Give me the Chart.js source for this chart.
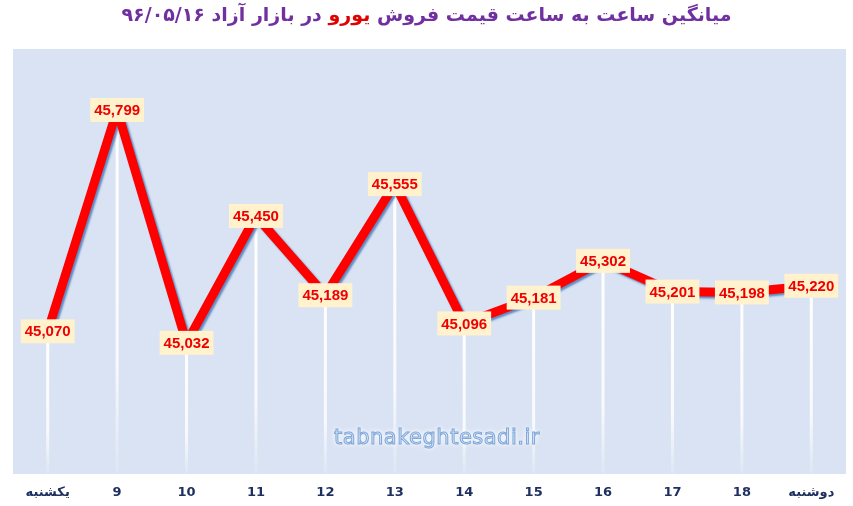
<!DOCTYPE html>
<html>
<head>
<meta charset="utf-8">
<script src="https://cdn.jsdelivr.net/npm/chart.js@4.4.0/dist/chart.umd.min.js"></script>
<style>
  body { margin: 0; background: #fff; }
  #wrap { position: relative; width: 853px; height: 506px; }
  #title {
    position: absolute; left: 0; top: 0; width: 853px; text-align: center;
    direction: rtl; font-family: "DejaVu Sans", sans-serif; font-weight: bold;
    font-size: 19px; color: #7030a0; line-height: 28px;
  }
  #title .red { color: #e00000; }
  #mark {
    position: absolute; left: 322px; top: 425px; width: 230px; text-align: center;
    font-family: "DejaVu Sans", sans-serif; font-size: 21px; color: #dce8f8;
    -webkit-text-stroke: 1px #7ea6d8; text-shadow: 0 0 4px #fff, 0 0 6px #fff;
    letter-spacing: 0.5px;
  }
</style>
</head>
<body>
<div id="wrap">
  <canvas id="myChart"></canvas>
  <div id="title">میانگین ساعت به ساعت قیمت فروش <span class="red">یورو</span> در بازار آزاد ۹۶/۰۵/۱۶</div>
  <div id="mark">tabnakeghtesadi.ir</div>
</div>
<script>
// ساعت ها
var hours = ['یکشنبه', '9', '10', '11', '12', '13', '14', '15', '16', '17', '18', 'دوشنبه'];
// قیمت یورو (تومان)
var prices = [45070, 45799, 45032, 45450, 45189, 45555, 45096, 45181, 45302, 45201, 45198, 45220];
var yMin = 44600;
var yMax = 46000;

// background of plot area
const plotBg = {
  id: 'plotBg',
  beforeDraw(chart) {
    const { ctx, chartArea: a } = chart;
    ctx.save();
    ctx.fillStyle = '#dae3f3';
    ctx.fillRect(a.left, a.top, a.right - a.left, a.bottom - a.top);
    ctx.restore();
  }
};

// white drop lines under the points
const dropLines = {
  id: 'dropLines',
  beforeDatasetsDraw(chart) {
    const { ctx, chartArea: a } = chart;
    const pts = chart.getDatasetMeta(0).data;
    ctx.save();
    ctx.lineWidth = 3;
    pts.forEach(p => {
      var g = ctx.createLinearGradient(0, p.y, 0, a.bottom);
      g.addColorStop(0, 'rgba(255,255,255,1)');
      g.addColorStop(0.7, 'rgba(255,255,255,0.8)');
      g.addColorStop(1, 'rgba(255,255,255,0.1)');
      ctx.strokeStyle = g;
      ctx.beginPath();
      ctx.moveTo(p.x, p.y);
      ctx.lineTo(p.x, a.bottom);
      ctx.stroke();
    });
    ctx.restore();
  }
};

// blue shadow under the red line
const lineShadow = {
  id: 'lineShadow',
  beforeDatasetDraw(chart) {
    const ctx = chart.ctx;
    ctx.save();
    ctx.shadowColor = 'rgba(79,129,189,0.9)';
    ctx.shadowOffsetX = 2;
    ctx.shadowOffsetY = 2;
    ctx.shadowBlur = 2;
  },
  afterDatasetDraw(chart) {
    chart.ctx.restore();
  }
};

// value boxes
const valueLabels = {
  id: 'valueLabels',
  afterDatasetsDraw(chart) {
    const ctx = chart.ctx;
    const pts = chart.getDatasetMeta(0).data;
    ctx.save();
    ctx.font = 'bold 15px "Liberation Sans", sans-serif';
    ctx.textAlign = 'center';
    ctx.textBaseline = 'middle';
    pts.forEach((p, i) => {
      var txt = prices[i].toLocaleString('en-US');
      var w = ctx.measureText(txt).width + 8;
      var h = 24;
      ctx.fillStyle = '#fff2cc';
      ctx.fillRect(p.x - w / 2, p.y - h / 2, w, h);
      ctx.fillStyle = '#ee0000';
      ctx.fillText(txt, p.x, p.y + 1);
    });
    ctx.restore();
  }
};

var canvas1 = document.getElementById('myChart');
var myChart = new Chart(canvas1, {
  type: 'line',
  data: {
    labels: hours,
    datasets: [{
      data: prices,
      borderColor: '#ff0000',
      borderWidth: 9,
      borderJoinStyle: 'round',
      tension: 0,
      pointRadius: 0,
      pointHoverRadius: 0,
      fill: false
    }]
  },
  options: {
    responsive: true,
    maintainAspectRatio: false,
    animation: false,
    layout: { padding: { top: 49, left: 13, right: 7, bottom: 4 } },
    plugins: {
      legend: { display: false },
      tooltip: { enabled: false }
    },
    scales: {
      x: {
        offset: true,
        grid: { display: false, drawTicks: false },
        border: { display: false },
        afterFit: s => { s.height = 28; },
        ticks: {
          padding: 11,
          color: '#1f3060',
          font: { family: '"DejaVu Sans", sans-serif', size: 13, weight: 'bold' }
        }
      },
      y: {
        display: false,
        min: yMin,
        max: yMax
      }
    }
  },
  plugins: [plotBg, dropLines, lineShadow, valueLabels]
});
</script>
</body>
</html>
